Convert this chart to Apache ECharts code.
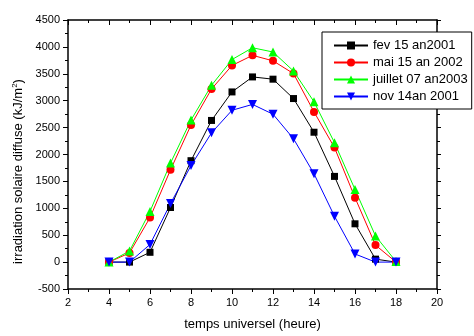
<!DOCTYPE html>
<html><head><meta charset="utf-8">
<script src="https://cdn.jsdelivr.net/npm/echarts@6/dist/echarts.min.js"></script>
<style>html,body{margin:0;padding:0;background:#fff}#c{width:474px;height:336px}</style>
</head><body><div id="c"></div>
<script>
var hours = [4,5,6,7,8,9,10,11,12,13,14,15,16,17,18];
var fev15_2001 = [0,0,182,1015,1885,2633,3163,3442,3400,3040,2414,1593,712,55,0];
var mai15_2002 = [0,170,827,1715,2548,3217,3655,3843,3741,3504,2792,2128,1198,316,0];
var juillet07_2003 = [0,206,942,1840,2640,3285,3765,3984,3905,3552,2980,2219,1350,486,10];
var nov14_2001 = [0,0,328,1088,1794,2402,2822,2931,2749,2293,1642,851,151,0,0];
var seriesNames = ['fev 15 an2001','mai 15 an 2002','juillet 07 an2003','nov 14an 2001'];
var xTitle = 'temps universel (heure)';
var yTitle = 'irradiation solaire diffuse (kJ/m{sup|2})';

function pairs(v){ return hours.map(function(h,i){ return [h, v[i]]; }); }
function plain(v){ return String(v); }
var font = 'Liberation Sans, Arial, sans-serif';
var chart = echarts.init(document.getElementById('c'), null, {renderer:'canvas'});
function mk(name, data, color, symbol, size, rot){
  return {name:name, type:'line', data:pairs(data), xAxisIndex:0, yAxisIndex:0,
    symbol:symbol, symbolSize:size, symbolRotate:rot||0, showAllSymbol:true,
    lineStyle:{color:color, width:1}, itemStyle:{color:color}, animation:false};
}
chart.setOption({
  animation:false,
  grid:{left:68, right:37, top:20, bottom:41, containLabel:false},
  legend:{
    left:322, top:32, orient:'vertical',
    padding:[7,4,6,11], itemGap:4, itemWidth:34, itemHeight:10,
    backgroundColor:'#fff', borderColor:'#000', borderWidth:1,
    textStyle:{fontFamily:font, fontSize:13, color:'#000'},
    data:seriesNames
  },
  xAxis:[{
    type:'value', min:2, max:20, interval:2, position:'bottom',
    name:xTitle, nameLocation:'middle', nameGap:29,
    nameTextStyle:{fontFamily:font, fontSize:13, color:'#000'},
    axisLine:{show:true, onZero:false, lineStyle:{color:'#000', width:1.5}},
    axisTick:{show:true, inside:false, length:5, lineStyle:{color:'#000'}},
    minorTick:{show:true, splitNumber:2, length:3, lineStyle:{color:'#000'}},
    axisLabel:{fontFamily:font, fontSize:11, color:'#000', margin:8, formatter:plain},
    splitLine:{show:false}
  },{
    type:'value', min:2, max:20, interval:2, position:'top',
    axisLine:{show:true, onZero:false, lineStyle:{color:'#000', width:1.5}},
    axisTick:{show:true, inside:true, length:5, lineStyle:{color:'#000'}},
    minorTick:{show:true, splitNumber:2, length:3, lineStyle:{color:'#000'}},
    axisLabel:{show:false}, splitLine:{show:false}
  }],
  yAxis:[{
    type:'value', min:-500, max:4500, interval:500, position:'left',
    name:yTitle, nameLocation:'middle', nameGap:40, nameRotate:90,
    nameTextStyle:{fontFamily:font, fontSize:13, color:'#000', padding:[0,34,0,0],
      rich:{sup:{fontFamily:font, fontSize:8, verticalAlign:'top', padding:[0,0,6,0]}}},
    axisLine:{show:true, onZero:false, lineStyle:{color:'#000', width:1.5}},
    axisTick:{show:true, inside:false, length:5, lineStyle:{color:'#000'}},
    minorTick:{show:true, splitNumber:2, length:3, lineStyle:{color:'#000'}},
    axisLabel:{fontFamily:font, fontSize:11, color:'#000', margin:8, formatter:plain},
    splitLine:{show:false}
  },{
    type:'value', min:-500, max:4500, interval:500, position:'right',
    axisLine:{show:true, onZero:false, lineStyle:{color:'#000', width:1.5}},
    axisTick:{show:true, inside:false, length:4, lineStyle:{color:'#000'}},
    minorTick:{show:true, splitNumber:2, length:3, lineStyle:{color:'#000'}},
    axisLabel:{show:false}, splitLine:{show:false}
  }],
  series:[
    mk(seriesNames[0], fev15_2001, '#000000', 'rect', 7),
    mk(seriesNames[1], mai15_2002, '#ff0000', 'circle', 8),
    mk(seriesNames[2], juillet07_2003, '#00ff00', 'triangle', 9),
    mk(seriesNames[3], nov14_2001, '#0000ff', 'triangle', 9, 180)
  ]
});
</script></body></html>
